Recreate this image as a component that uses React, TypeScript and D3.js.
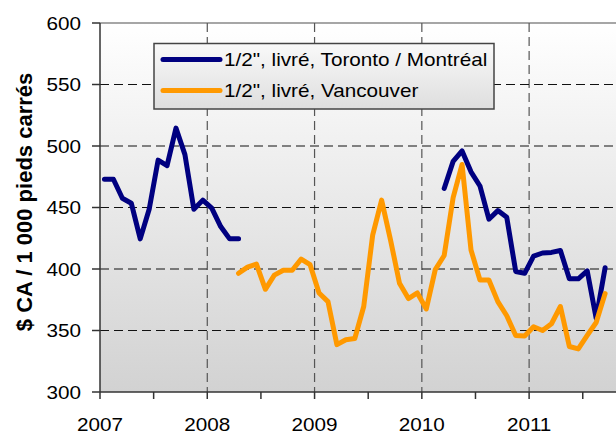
import React from "react";
import * as d3 from "d3";

// Monthly data, index 0 = Jan 2007
const startYear = 2007;
const monthCount = 58;
const yearTicks = [2007, 2008, 2009, 2010, 2011];
const yTicks = [300, 350, 400, 450, 500, 550, 600];

const torontoMontreal: (number | null)[] = [
  473, 473, 457.5, 453.5, 424.5, 448.5, 488.5, 484, 514.5, 493, 448.5, 456,
  449.5, 434.5, 424.5, 424.5,
  null, null, null, null, null, null, null, null, null, null, null, null, null, null,
  null, null, null, null, null, null, null, null,
  465.5, 487.5, 496, 479, 467.5, 440.5, 447.5, 442, 398, 396.5, 410.5, 413, 413.5, 415,
  392, 392, 398.5, 360, 401,
];

const vancouver: (number | null)[] = [
  null, null, null, null, null, null, null, null, null, null, null, null,
  null, null, null,
  396.5, 401.5, 404, 383.5, 395, 399, 399, 408, 403.5,
  380.5, 373.5, 338.5, 342.5, 343.5, 369.5, 427.5, 456, 423.5, 388.5, 376, 380.5,
  367.5, 399.5, 411, 458, 485, 415.5, 391, 391, 373.5, 362, 346, 345.5,
  353, 350, 355.5, 369.5, 337, 335, 346, 356.5, 380,
];

const seriesNames = ['1/2", livré, Toronto / Montréal', '1/2", livré, Vancouver'];
const seriesColors = ["#000080", "#FF9900"];
const yTitle = "$ CA / 1 000 pieds carrés";

const W = 616;
const H = 434;
const left = 100;
const top = 23;
const bottom = 392;
const monthW = 8.94;

export default function App() {
  const x = d3.scaleLinear().domain([0, monthCount]).range([left, left + monthCount * monthW]);
  const y = d3.scaleLinear().domain([300, 600]).range([bottom, top]);

  const line = d3
    .line<number | null>()
    .defined((d) => d != null)
    .x((_, i) => x(i + 0.5))
    .y((d) => y(d as number));

  const series = [torontoMontreal, vancouver];
  const halfTicks = d3.range(0, monthCount, 6);
  const font = "'Liberation Sans', Arial, sans-serif";

  return (
    <svg
      width={W}
      height={H}
      style={{ position: "absolute", left: 0, top: 0, background: "#fff" }}
    >
      <defs>
        <linearGradient id="plotBg" x1="0" y1="0" x2="0" y2="1">
          <stop offset="0" stopColor="#ffffff" />
          <stop offset="1" stopColor="#d2d2d2" />
        </linearGradient>
        <linearGradient id="legBg" x1="0" y1="0" x2="0" y2="1">
          <stop offset="0" stopColor="#f9f9f9" />
          <stop offset="1" stopColor="#dedede" />
        </linearGradient>
      </defs>
      <rect x={left} y={top} width={W - left} height={bottom - top} fill="url(#plotBg)" />
      <line x1={left} x2={W} y1={top} y2={top} stroke="#888" strokeWidth={1.5} />

      {/* vertical grid lines */}
      {yearTicks.slice(1).map((yr) => (
        <line
          key={yr}
          x1={x((yr - startYear) * 12)}
          x2={x((yr - startYear) * 12)}
          y1={top}
          y2={bottom}
          stroke="#555"
          strokeWidth={1.2}
          strokeDasharray="9 5"
        />
      ))}
      {/* horizontal grid lines */}
      {yTicks.slice(1, -1).map((v) => (
        <line
          key={v}
          x1={left}
          x2={W}
          y1={y(v)}
          y2={y(v)}
          stroke="#111"
          strokeWidth={1.2}
          strokeDasharray="9 5"
        />
      ))}

      {/* axes */}
      <line x1={left} x2={left} y1={top} y2={bottom} stroke="#333" strokeWidth={1.5} />
      <line x1={left} x2={W} y1={bottom} y2={bottom} stroke="#333" strokeWidth={1.5} />
      {yTicks.map((v) => (
        <g key={v}>
          <line x1={left - 8} x2={left} y1={y(v)} y2={y(v)} stroke="#333" strokeWidth={1.5} />
          <text
            transform={`translate(${left - 19},${y(v) + 6.5}) scale(1.15,1)`}
            textAnchor="end"
            fontFamily={font}
            fontSize={18}
            fill="#000"
          >
            {v}
          </text>
        </g>
      ))}
      {halfTicks.map((m) => (
        <line key={m} x1={x(m)} x2={x(m)} y1={bottom} y2={bottom + 7} stroke="#333" strokeWidth={1.5} />
      ))}
      {yearTicks.map((yr) => (
        <text
          key={yr}
          transform={`translate(${x((yr - startYear) * 12)},${430.5}) scale(1.15,1)`}
          textAnchor="middle"
          fontFamily={font}
          fontSize={18}
          fill="#000"
        >
          {yr}
        </text>
      ))}

      {/* series lines */}
      {series.map((s, i) => (
        <path
          key={i}
          d={line(s) || ""}
          fill="none"
          stroke={seriesColors[i]}
          strokeWidth={5}
          strokeLinejoin="round"
          strokeLinecap="round"
        />
      ))}

      {/* y title */}
      <text
        transform={`translate(31.5,202) rotate(-90)`}
        textAnchor="middle"
        fontFamily={font}
        fontWeight="bold"
        fontSize={22}
        fill="#000"
      >
        {yTitle}
      </text>

      {/* legend */}
      <rect x={154} y={43.5} width={340} height={65.5} fill="url(#legBg)" stroke="#444" strokeWidth={1.5} />
      {seriesNames.map((name, i) => (
        <g key={name}>
          <line
            x1={163}
            x2={220}
            y1={59.5 + i * 31}
            y2={59.5 + i * 31}
            stroke={seriesColors[i]}
            strokeWidth={5}
            strokeLinecap="round"
          />
          <text
            transform={`translate(224,${66 + i * 31}) scale(1.15,1)`}
            fontFamily={font}
            fontSize={18}
            fill="#000"
          >
            {name}
          </text>
        </g>
      ))}
    </svg>
  );
}
